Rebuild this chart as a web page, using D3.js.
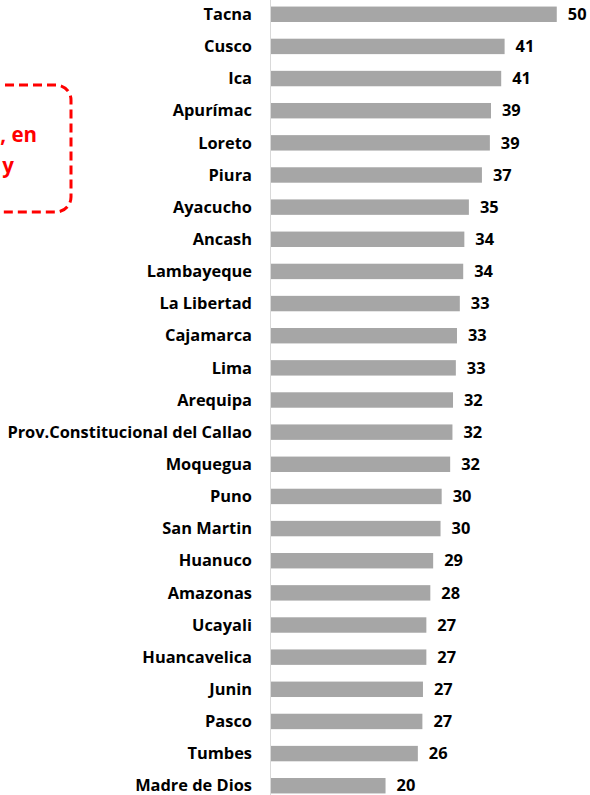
<!DOCTYPE html>
<html>
<head>
<meta charset="utf-8">
<title>Regiones - barras</title>
<style type="text/css">
* { margin: 0; padding: 0; }
body { background: #fff; }
text { font-family: "Open Sans", Lato, sans-serif; font-weight: bold; }
</style>
<script src="https://cdn.jsdelivr.net/npm/d3@7/dist/d3.min.js"></script>
</head>
<body>
<div id="chart"></div>
<script type="text/javascript">
// regiones, de mayor a menor
var regiones = ["Tacna", "Cusco", "Ica", "Apurímac", "Loreto", "Piura", "Ayacucho",
  "Ancash", "Lambayeque", "La Libertad", "Cajamarca", "Lima", "Arequipa",
  "Prov.Constitucional del Callao", "Moquegua", "Puno", "San Martin", "Huanuco",
  "Amazonas", "Ucayali", "Huancavelica", "Junin", "Pasco", "Tumbes", "Madre de Dios"];

var valores = [50.4, 41.2, 40.6, 38.8, 38.6, 37.2, 34.9,
  34.1, 33.9, 33.3, 32.8, 32.6, 32.1,
  32.0, 31.6, 30.1, 29.9, 28.6,
  28.1, 27.4, 27.4, 26.8, 26.7, 25.9, 20.2];

// texto del recuadro rojo (cortado por el borde)
var notaLineas = [", en", "y"];

var W = 590, H = 795;
var svg = d3.select("#chart").append("svg")
  .attr("width", W)
  .attr("height", H);

var data = regiones.map(function(r, i) { return { region: r, valor: valores[i] }; });

var x = d3.scaleLinear().domain([0, 55]).range([271, 271 + 55 * 5.67]);
var y = d3.scaleBand()
  .domain(regiones)
  .range([-1.8, 801.8])
  .paddingInner(0.52)
  .paddingOuter(0.26);

var fmt = d3.format(".0f");

// eje vertical
svg.append("line")
  .attr("x1", x(0) - 0.5).attr("x2", x(0) - 0.5)
  .attr("y1", 0).attr("y2", H)
  .attr("stroke", "#d9d9d9")
  .attr("stroke-width", 1);

svg.selectAll("rect.bar").data(data).enter().append("rect")
  .attr("class", "bar")
  .attr("x", x(0))
  .attr("y", function(d) { return y(d.region); })
  .attr("width", function(d) { return x(d.valor) - x(0); })
  .attr("height", y.bandwidth())
  .attr("fill", "#a6a6a6");

svg.selectAll("text.cat").data(data).enter().append("text")
  .attr("class", "cat")
  .attr("x", 252)
  .attr("y", function(d) { return y(d.region) + y.bandwidth() / 2; })
  .attr("dy", "0.35em")
  .attr("text-anchor", "end")
  .attr("font-size", 16.4)
  .attr("fill", "#000")
  .text(function(d) { return d.region; });

svg.selectAll("text.val").data(data).enter().append("text")
  .attr("class", "val")
  .attr("x", function(d) { return x(d.valor) + 11; })
  .attr("y", function(d) { return y(d.region) + y.bandwidth() / 2; })
  .attr("dy", "0.35em")
  .attr("font-size", 16.4)
  .attr("fill", "#000")
  .text(function(d) { return fmt(d.valor); });

// recuadro rojo punteado
svg.append("rect")
  .attr("x", -150)
  .attr("y", 85)
  .attr("width", 221)
  .attr("height", 127)
  .attr("rx", 15)
  .attr("fill", "none")
  .attr("stroke", "#ff0000")
  .attr("stroke-width", 3)
  .attr("stroke-dasharray", "9,5");

var notaX = [37, 14];
svg.selectAll("text.nota").data(notaLineas).enter().append("text")
  .attr("class", "nota")
  .attr("x", function(d, i) { return notaX[i]; })
  .attr("y", function(d, i) { return 142 + i * 31; })
  .attr("text-anchor", "end")
  .attr("font-size", 20.5)
  .attr("fill", "#ff0000")
  .text(function(d) { return d; });
</script>
</body>
</html>
